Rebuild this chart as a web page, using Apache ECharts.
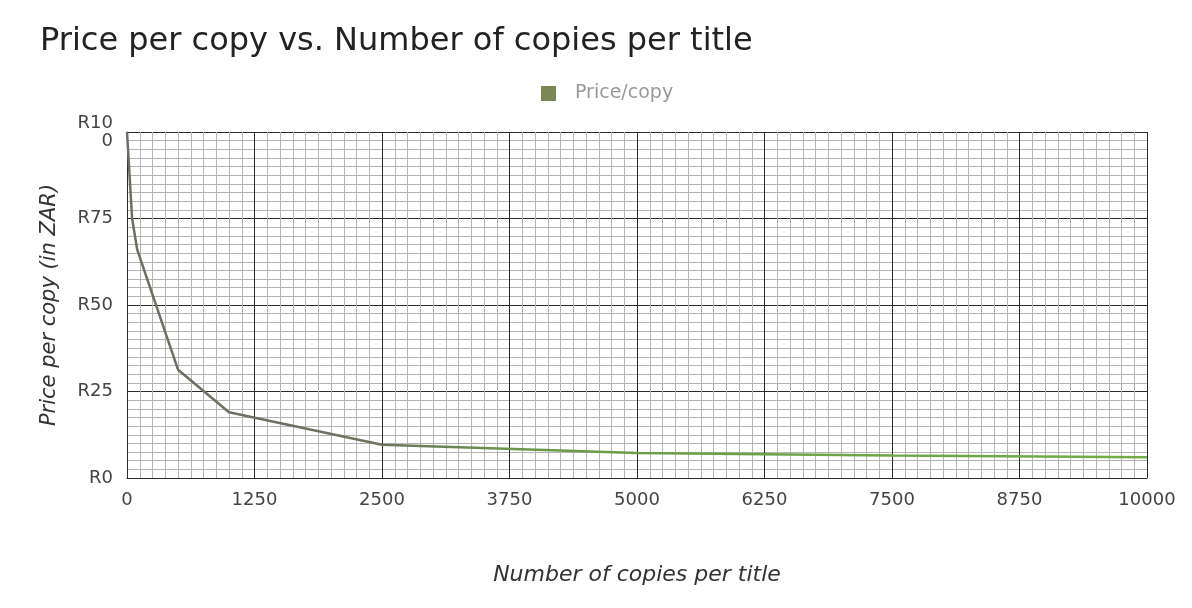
<!DOCTYPE html>
<html lang="en">
<head>
  <meta charset="UTF-8">
  <title>Price per copy</title>
  <script src="https://cdn.jsdelivr.net/npm/echarts@6/dist/echarts.min.js"></script>
  <style>
    html, body { margin: 0; padding: 0; background: #fff; }
  </style>
</head>
<body>
<div id="main" style="width: 1192px;height:608px;"></div>
<script>
  // copies per title -> price per copy (ZAR)
  var copies = [0, 50, 100, 500, 1000, 2500, 5000, 7500, 10000];
  var price = [100, 75, 66, 31.3, 19, 9.6, 7.2, 6.5, 6.0];
  var xTicks = [0, 1250, 2500, 3750, 5000, 6250, 7500, 8750, 10000];
  var yTicks = [0, 25, 50, 75, 100];

  var data = copies.map(function (c, i) { return [c, price[i]]; });

  var myChart = echarts.init(document.getElementById('main'));

  var font = '"DejaVu Sans", Roboto, Arial, sans-serif';

  var option = {
    animation: false,
    title: {
      text: 'Price per copy vs. Number of copies per title',
      left: 35,
      top: 21,
      textStyle: { fontFamily: font, fontSize: 32, fontWeight: 'normal', color: '#222' }
    },
    legend: {
      data: ['Price/copy'],
      left: 536,
      top: 79,
      icon: 'rect',
      itemWidth: 15,
      itemHeight: 15,
      itemGap: 10,
      textStyle: { fontFamily: font, fontSize: 19, color: '#999', padding: [0, 0, 0, 14] }
    },
    grid: { left: 127, right: 45, top: 132, bottom: 130, containLabel: false },
    xAxis: {
      type: 'value',
      min: xTicks[0],
      max: xTicks[xTicks.length - 1],
      interval: 1250,
      name: 'Number of copies per title',
      nameLocation: 'middle',
      nameGap: 86,
      nameTextStyle: { fontFamily: font, fontSize: 22, fontStyle: 'italic', color: '#333' },
      axisLine: { show: true, lineStyle: { color: '#2a2a2a', width: 1 } },
      axisTick: { show: false },
      axisLabel: {
        fontFamily: font, fontSize: 18, color: '#444', margin: 13,
        formatter: function (v) { return String(v); }
      },
      splitLine: { show: true, lineStyle: { color: '#2a2a2a', width: 1 } },
      minorTick: { show: false, splitNumber: 10 },
      minorSplitLine: { show: true, lineStyle: { color: '#b4b4b4', width: 1 } }
    },
    yAxis: {
      type: 'value',
      min: yTicks[0],
      max: yTicks[yTicks.length - 1],
      interval: 25,
      name: 'Price per copy (in ZAR)',
      nameLocation: 'middle',
      nameGap: 67,
      nameTextStyle: { fontFamily: font, fontSize: 21, fontStyle: 'italic', color: '#333' },
      axisLine: { show: true, lineStyle: { color: '#2a2a2a', width: 1 } },
      axisTick: { show: false },
      axisLabel: {
        fontFamily: font, fontSize: 18, color: '#444', margin: 14, lineHeight: 18,
        formatter: function (v) { return v === 100 ? 'R10\n0' : 'R' + v; }
      },
      splitLine: { show: true, lineStyle: { color: '#2a2a2a', width: 1 } },
      minorTick: { show: false, splitNumber: 10 },
      minorSplitLine: { show: true, lineStyle: { color: '#b4b4b4', width: 1 } }
    },
    series: [{
      name: 'Price/copy',
      type: 'line',
      showSymbol: false,
      data: data,
      itemStyle: { color: '#7b8757' },
      lineStyle: {
        width: 2.5,
        color: new echarts.graphic.LinearGradient(0, 0, 1, 0, [
          { offset: 0, color: '#6c6e62' },
          { offset: 0.25, color: '#6c7460' },
          { offset: 0.4, color: '#6a9a48' },
          { offset: 1, color: '#72ad48' }
        ])
      }
    }]
  };

  myChart.setOption(option);
</script>
</body>
</html>
